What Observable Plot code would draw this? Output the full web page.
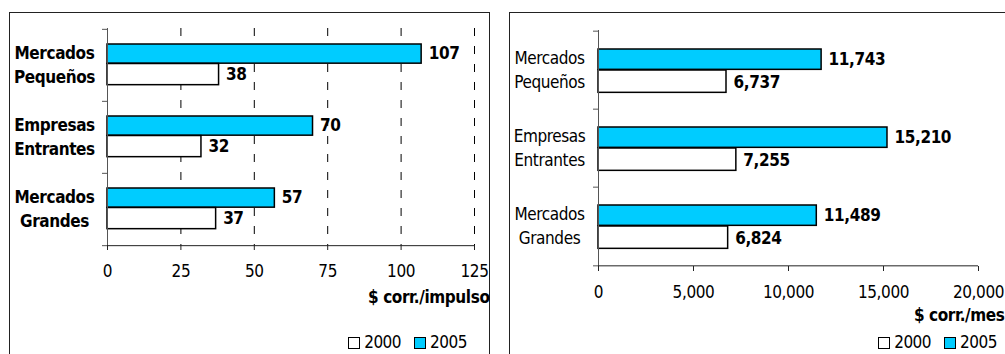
<!DOCTYPE html>
<html>
<head>
<meta charset="utf-8">
<script src="https://cdn.jsdelivr.net/npm/d3@7"></script>
<script src="https://cdn.jsdelivr.net/npm/@observablehq/plot@0.6"></script>
<style>
  html, body { margin: 0; padding: 0; background: #fff; }
  #page { position: relative; width: 1005px; height: 354px; overflow: hidden; background: #fff;
    font-family: "DejaVu Sans Condensed", "DejaVu Sans", sans-serif; }
  .box { position: absolute; top: 12px; height: 400px; border: 1px solid #222; box-sizing: border-box; }
  .chart { position: absolute; top: 0; }
  .legend { position: absolute; display: flex; align-items: center; font-size: 17px; letter-spacing: -0.5px; color: #000; line-height: 1; }
  .legend .sw { width: 10px; height: 10px; border: 1px solid #000; margin-right: 4px; }
  .legend .item { display: flex; align-items: center; margin-left: 13px; }
</style>
</head>
<body>
<div id="page">
  <div class="box" style="left:9px; width:481px;"></div>
  <div class="box" style="left:509px; width:600px;"></div>
</div>
<script>
// Categories and the two series for each panel
const categories = ["Mercados Pequeños", "Empresas Entrantes", "Mercados Grandes"];
const categoryLines = ["Mercados\nPequeños", "Empresas\nEntrantes", "Mercados\nGrandes"];
const years = ["2000", "2005"];

const impulso2000 = [38, 32, 37];
const impulso2005 = [107, 70, 57];
const impulsoTicks = [0, 25, 50, 75, 100, 125];

const mes2000 = [6737, 7255, 6824];
const mes2005 = [11743, 15210, 11489];
const mesTicks = [0, 5000, 10000, 15000, 20000];

const colors = {"2000": "#ffffff", "2005": "#00ccff"};
const FONT = '"DejaVu Sans Condensed", "DejaVu Sans", sans-serif';

function rows(values) {
  return categories.map((c, i) => ({category: c, label: categoryLines[i], value: values[i]}));
}

function panel({width, height, mt, mr, mb, ml, v2000, v2005, ticks, fmt, grid, boldCats, title,
                titleDx, titleDy, catDx, bars, valDy}) {
  const band = (height - mt - mb) / categories.length;
  const last = categories.slice(-1);
  const r2000 = rows(v2000), r2005 = rows(v2005);
  return Plot.plot({
    width, height,
    marginTop: mt, marginRight: mr, marginBottom: mb, marginLeft: ml,
    style: {fontFamily: FONT, fontSize: "17px", letterSpacing: "-0.4px", background: "transparent",
            color: "#000", overflow: "visible"},
    x: {domain: [ticks[0], ticks[ticks.length - 1]], label: null},
    y: {domain: categories, padding: 0, axis: null},
    marks: [
      grid ? Plot.ruleX(ticks.slice(1), {stroke: "#000", strokeWidth: 1, strokeDasharray: "8,10"}) : null,
      Plot.barX(r2005, {x: "value", y: "category", fill: colors["2005"], stroke: "#000", strokeWidth: 1.5,
        insetTop: bars.top2005, insetBottom: band - bars.bottom2005}),
      Plot.barX(r2000, {x: "value", y: "category", fill: colors["2000"], stroke: "#000", strokeWidth: 1.5,
        insetTop: bars.bottom2005, insetBottom: band - bars.bottom2000}),
      Plot.text(r2005, {x: "value", y: "category", text: d => fmt(d.value), dx: 7, dy: valDy[0],
        textAnchor: "start", fontWeight: "bold", fill: "#000"}),
      Plot.text(r2000, {x: "value", y: "category", text: d => fmt(d.value), dx: 7, dy: valDy[1],
        textAnchor: "start", fontWeight: "bold", fill: "#000"}),
      // axes
      Plot.ruleX([0], {stroke: "#555"}),
      Plot.ruleY(last, {y: d => d, dy: band / 2, stroke: "#222"}),
      Plot.ruleY(categories, {y: d => d, dy: -band / 2, x1: 0, x2: 0, insetLeft: -5, stroke: "#555"}),
      Plot.ruleY(last, {y: d => d, dy: band / 2, x1: 0, x2: 0, insetLeft: -5, stroke: "#555"}),
      Plot.axisX({ticks, tickSize: 5, tickPadding: 14, tickFormat: fmt, label: null, stroke: "#222"}),
      Plot.text(r2000, {y: "category", frameAnchor: "left", dx: catDx, dy: -2, text: "label",
        textAnchor: "middle", lineAnchor: "middle", lineHeight: 1.42,
        fontWeight: boldCats ? "bold" : "normal", fill: "#000"}),
      Plot.text([title], {frameAnchor: "bottom-right", dx: titleDx, dy: titleDy, textAnchor: "end",
        lineAnchor: "middle", fontWeight: "bold", fill: "#000"})
    ]
  });
}

const page = document.getElementById("page");

const left = panel({
  width: 500, height: 354, mt: 28, mr: 26, mb: 109, ml: 107,
  v2000: impulso2000, v2005: impulso2005, ticks: impulsoTicks, fmt: d3.format(","),
  grid: true, boldCats: true, title: "$ corr./impulso", titleDx: 15, titleDy: 52, catDx: -53,
  bars: {top2005: 15, bottom2005: 34.5, bottom2000: 56}, valDy: [-12, 9.5]
});
left.classList.add("chart");
left.style.left = "0px";
page.appendChild(left);

const right = panel({
  width: 505, height: 354, mt: 30, mr: 27, mb: 88, ml: 98,
  v2000: mes2000, v2005: mes2005, ticks: mesTicks, fmt: d3.format(","),
  grid: false, boldCats: false, title: "$ corr./mes", titleDx: 26, titleDy: 49, catDx: -49,
  bars: {top2005: 18, bottom2005: 39, bottom2000: 62}, valDy: [-11, 12]
});
right.classList.add("chart");
right.style.left = "500px";
page.appendChild(right);

// Legends
function legend(rightEdge) {
  const div = document.createElement("div");
  div.className = "legend";
  div.style.right = (1005 - rightEdge) + "px";
  div.style.top = "334px";
  years.forEach((y, i) => {
    const item = document.createElement("div");
    item.className = "item";
    if (i === 0) item.style.marginLeft = "0px";
    const sw = document.createElement("div");
    sw.className = "sw";
    sw.style.background = colors[y];
    const t = document.createElement("span");
    t.textContent = y;
    item.appendChild(sw);
    item.appendChild(t);
    div.appendChild(item);
  });
  page.appendChild(div);
}
legend(467);
legend(997);
</script>
</body>
</html>
